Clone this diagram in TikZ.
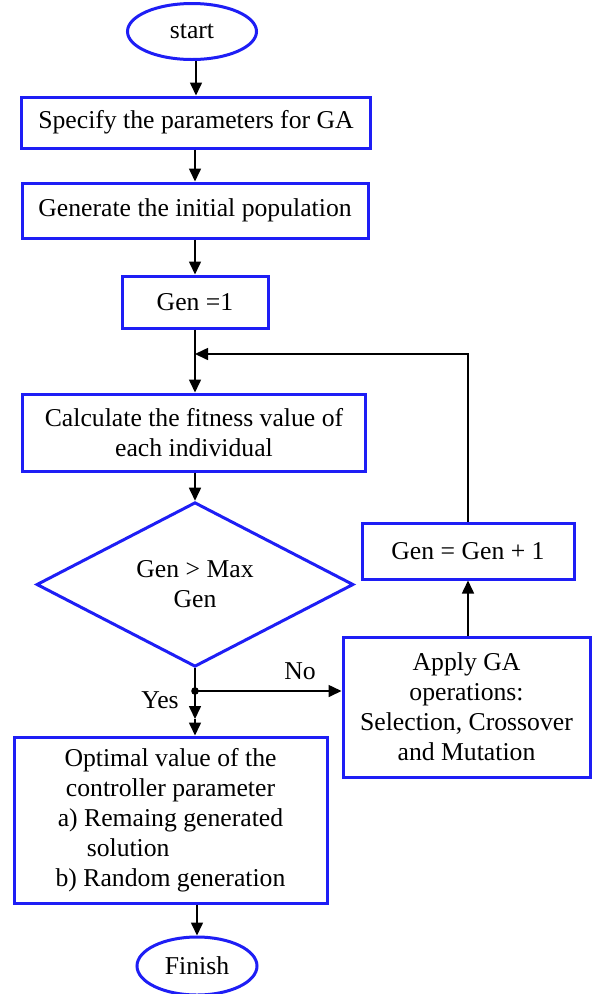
\documentclass[tikz,border=0pt]{standalone}
\usepackage{fontspec}
\setmainfont{Liberation Serif}
\usetikzlibrary{shapes.geometric,arrows.meta}
\definecolor{boxblue}{RGB}{30,30,245}
\tikzset{
  txt/.style={font=\fontsize{25.7}{30}\selectfont, text=black, align=center, inner sep=0pt},
  blk/.style={txt, draw=boxblue, line width=3pt, rectangle},
  oval/.style={txt, draw=boxblue, line width=3pt, ellipse},
  dia/.style={txt, draw=boxblue, line width=3pt, diamond},
  arr/.style={draw=black, line width=1.6pt, -{Triangle[length=13pt,width=12pt]}},
  ln/.style={draw=black, line width=1.6pt},
  lbl/.style={font=\fontsize{25.7}{30}\selectfont, inner sep=0pt}
}
\begin{document}
\begin{tikzpicture}[x=1pt,y=-1pt]
\useasboundingbox (0,0) rectangle (592,994);
\fill[white] (0,0) rectangle (592,994);

\node[oval, minimum width=129pt, minimum height=56pt] (start) at (192,31.5) {start};
\node[blk, minimum width=349pt, minimum height=51pt] (spec) at (196,122.5) {Specify the parameters for GA};
\node[blk, minimum width=346pt, minimum height=55pt] (gen) at (195,210.5) {Generate the initial population};
\node[blk, minimum width=146pt, minimum height=52pt] (gen1) at (195,302) {Gen =1};
\node[blk, minimum width=343pt, minimum height=77pt] (fit) at (194,432.5) {Calculate the fitness value of\\each individual};
\node[dia, minimum width=317pt, minimum height=157pt] (dec) at (195,584.5) {Gen > Max\\Gen};
\node[blk, minimum width=212pt, minimum height=56pt] (inc) at (468,551) {Gen = Gen + 1};
\node[blk, minimum width=247pt, minimum height=140pt] (apply) at (466.5,707) {Apply GA\\operations:\\Selection, Crossover\\and Mutation};
\node[blk, minimum width=313pt, minimum height=166pt] (opt) at (170.5,820) {Optimal value of the\\controller parameter\\a) Remaing generated\\\makebox[0pt][l]{\hspace*{29pt}solution}\phantom{a) Remaing generated}\\b) Random generation};
\node[oval, minimum width=120pt, minimum height=58pt] (fin) at (197,966) {Finish};

\coordinate (loop) at (195,354);
\coordinate (j) at (195,691);
\coordinate (j2) at (195,719);

\node[lbl] (no) at (300,671) {No};
\node[lbl] (yes) at (160,700) {Yes};

\draw[arr] (start.south -| spec.north) -- (spec.north);
\draw[arr] (spec.south -| gen.north) -- (gen.north);
\draw[arr] (gen) -- (gen1);
\draw[arr] (gen1) -- (fit.north -| gen1);
\draw[arr] (fit.south -| dec.north) -- (dec.north);
\draw[ln] (dec.south) -- (j);
\fill (j) circle (3.8pt);
\draw[arr] (j) -- (j2);
\draw[arr] (j2) -- (j2 |- opt.north);
\draw[arr] (j) -- (j -| apply.west);
\draw[arr] (apply.north -| inc.south) -- (inc.south);
\draw[arr] (inc.north) |- (loop);
\draw[arr] (opt.south -| fin.north) -- (fin.north);
\end{tikzpicture}
\end{document}
